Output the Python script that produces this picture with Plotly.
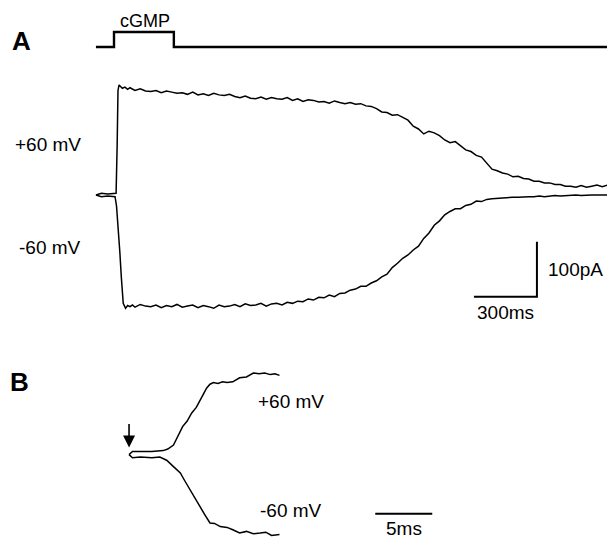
import plotly.graph_objects as go

# ---------------- Panel A data (time in ms, current in pA) ----------------
cgmp_t = [-86, 0, 0, 285, 285, 2350]
cgmp_level = [0, 0, 1, 1, 0, 0]

pos_t = [-86, -60, -30, 0, 10, 15, 19, 24, 30, 40, 52, 65, 76, 88,
         100, 125, 150, 175, 200, 225, 250, 275, 300, 325, 350, 375, 400, 425, 450, 475,
         500, 525, 550, 575, 600, 625, 650, 675, 700, 725, 750, 775, 800, 825, 850, 875,
         900, 925, 950, 975, 1000, 1025, 1050, 1075, 1100, 1125, 1150, 1175, 1200, 1225,
         1250, 1275, 1300, 1325, 1350, 1375, 1400, 1425, 1450, 1475, 1500, 1525, 1550,
         1575, 1600, 1625, 1650, 1675, 1700, 1725, 1750, 1775, 1800, 1825, 1850, 1875,
         1900, 1925, 1950, 1975, 2000, 2025, 2050, 2075, 2100, 2125, 2150, 2175, 2200,
         2225, 2250, 2275, 2300, 2325, 2350]
pos_i = [0, 3, 2, 3, 3, 90, 190, 200, 197, 194, 196, 192, 195, 193,
         190, 193, 189, 188, 190, 186, 189, 187, 185, 186, 183, 187, 182, 184, 181, 185,
         182, 181, 183, 179, 177, 180, 176, 175, 178, 174, 177, 175, 174, 177, 172, 175,
         170, 173, 172, 169, 170, 167, 171, 168, 166, 168, 165, 166, 162, 161,
         157, 151, 150, 145, 146, 141, 136, 125, 120, 111, 116, 113, 108,
         100, 95, 97, 90, 82, 79, 72, 69, 57, 47, 44, 40, 38,
         33, 34, 30, 29, 25, 25, 22, 22, 19, 19, 16, 16, 14,
         17, 14, 16, 18, 15, 18]

neg_t = [-86, -60, -30, 0, 5, 12, 20, 28, 35, 44, 55, 65, 76, 88,
         100, 125, 150, 175, 200, 225, 250, 275, 300, 325, 350, 375, 400, 425, 450, 475,
         500, 525, 550, 575, 600, 625, 650, 675, 700, 725, 750, 775, 800, 825, 850, 875,
         900, 925, 950, 975, 1000, 1025, 1050, 1075, 1100, 1125, 1150, 1175, 1200, 1225,
         1250, 1275, 1300, 1325, 1350, 1375, 1400, 1425, 1450, 1475, 1500, 1525, 1550,
         1575, 1600, 1625, 1650, 1675, 1700, 1725, 1750, 1775, 1800, 1825, 1850, 1875,
         1900, 1925, 1950, 1975, 2000, 2025, 2050, 2075, 2100, 2125, 2150, 2175, 2200,
         2225, 2250, 2275, 2300, 2325, 2350]
neg_i = [0, -3, -2, -3, -3, -20, -55, -105, -150, -197, -206, -201, -203, -200,
         -204, -199, -202, -203, -200, -205, -201, -203, -199, -204, -202, -200, -205, -201, -203, -206,
         -200, -203, -202, -199, -203, -198, -201, -200, -197, -202, -198, -197, -200, -195, -197, -193,
         -194, -189, -191, -186, -187, -182, -185, -179, -178, -173, -171, -166, -166, -160,
         -156, -149, -144, -132, -124, -115, -109, -100, -93, -79, -69, -55, -47,
         -36, -30, -25, -25, -19, -17, -11, -12, -8, -7, -6, -5, -5,
         -4, -4, -3, -3, -3, -2, -3, -2, -1, -2, -1, -1, 0,
         -1, 0, 0, 0, 0, 0]

scale_a_ms = 300
scale_a_pa = 100

# ---------------- Panel B data (time in ms, normalised current) ----------------
b_pos_t = [0, 0.3, 1.0, 2.0, 3.0, 3.4, 3.9, 4.3, 4.7, 5.1, 5.5, 5.9, 6.2, 6.5, 6.8,
           7.1, 7.4, 7.8, 8.2, 8.6, 9.1, 9.7, 10.3, 10.9, 11.4, 11.9, 12.4, 12.8, 13.2]
b_pos_i = [-0.02, 0.02, 0.02, 0.02, 0.03, 0.05, 0.10, 0.22, 0.33, 0.40, 0.50, 0.57, 0.66,
           0.73, 0.81, 0.86, 0.88, 0.87, 0.89, 0.88, 0.89, 0.94, 0.95, 1.0, 0.99, 1.0,
           0.98, 0.99, 0.97]
b_neg_t = [0, 0.3, 1.0, 2.0, 2.7, 3.3, 3.9, 4.5, 4.9, 5.35, 5.8, 6.2, 6.6, 7.1, 7.5,
           8.0, 8.6, 9.1, 9.7, 10.3, 10.9, 11.5, 12.0, 12.5, 13.2]
b_neg_i = [-0.02, -0.06, -0.05, -0.06, -0.05, -0.09, -0.17, -0.25, -0.35, -0.46, -0.56,
           -0.675, -0.76, -0.875, -0.88, -0.92, -0.93, -0.96, -1.0, -0.98, -1.01, -1.0,
           -0.99, -1.03, -1.02]
scale_b_ms = 5

FONT = "Liberation Sans, Arial, sans-serif"
W, H = 607, 538

fig = go.Figure()
line = dict(color="black", width=1.5)

fig.add_trace(go.Scatter(x=cgmp_t, y=cgmp_level, mode="lines", xaxis="x", yaxis="y3",
                         line=dict(color="black", width=2.4)))
fig.add_trace(go.Scatter(x=pos_t, y=pos_i, mode="lines", xaxis="x", yaxis="y", line=line))
fig.add_trace(go.Scatter(x=neg_t, y=neg_i, mode="lines", xaxis="x", yaxis="y", line=line))

# Panel A scale bar (corner at right/bottom)
corner_t, corner_i = 2014, -185
fig.add_trace(go.Scatter(x=[corner_t - scale_a_ms, corner_t, corner_t],
                         y=[corner_i, corner_i, corner_i + scale_a_pa],
                         mode="lines", xaxis="x", yaxis="y",
                         line=dict(color="black", width=2)))

fig.add_trace(go.Scatter(x=b_pos_t, y=b_pos_i, mode="lines", xaxis="x2", yaxis="y2", line=line))
fig.add_trace(go.Scatter(x=b_neg_t, y=b_neg_i, mode="lines", xaxis="x2", yaxis="y2", line=line))
b_bar_t0, b_bar_i = 21.6, -0.76
fig.add_trace(go.Scatter(x=[b_bar_t0, b_bar_t0 + scale_b_ms], y=[b_bar_i, b_bar_i],
                         mode="lines", xaxis="x2", yaxis="y2",
                         line=dict(color="black", width=2)))

hidden = dict(visible=False, showgrid=False, zeroline=False, fixedrange=True)
fig.update_layout(
    width=W, height=H, margin=dict(l=0, r=0, t=0, b=0),
    paper_bgcolor="white", plot_bgcolor="white", showlegend=False,
    xaxis=dict(domain=[0, 1], range=[-542.9, 2347.7], **hidden),
    yaxis=dict(domain=[0, 1], range=[-623.6, 354.5], **hidden),
    yaxis3=dict(domain=[0, 1], range=[-32.73, 3.133], overlaying="y", **hidden),
    xaxis2=dict(domain=[0, 1], range=[-11.32, 41.93], overlaying="x", **hidden),
    yaxis2=dict(domain=[0, 1], range=[-1.0625, 5.6625], overlaying="y", **hidden),
)

def label(text, px, py, size, bold=False):
    fig.add_annotation(x=px / W, y=1 - py / H, xref="paper", yref="paper",
                       text=f"<b>{text}</b>" if bold else text, showarrow=False,
                       font=dict(family=FONT, size=size, color="black"),
                       xanchor="center", yanchor="middle")

label("A", 21, 41, 26, bold=True)
label("B", 19, 382, 26, bold=True)
label("cGMP", 145, 21, 18)
label("+60 mV", 48, 145, 19)
label("-60 mV", 50, 247, 19)
label("100pA", 575, 269, 19)
label("300ms", 505, 312, 19)
label("+60 mV", 291, 401, 19)
label("-60 mV", 291, 510, 19)
label("5ms", 404, 528, 19)

# arrow marking onset in panel B
fig.add_annotation(x=0, y=0.07, xref="x2", yref="y2", ax=0, ay=-25, axref="pixel",
                   ayref="pixel", showarrow=True, arrowhead=2, arrowsize=1.5,
                   arrowwidth=1.6, arrowcolor="black", text="")

fig.write_html("out.html", config={"displayModeBar": False},
               post_script="document.body.style.margin='0';document.body.style.overflow='hidden';")
